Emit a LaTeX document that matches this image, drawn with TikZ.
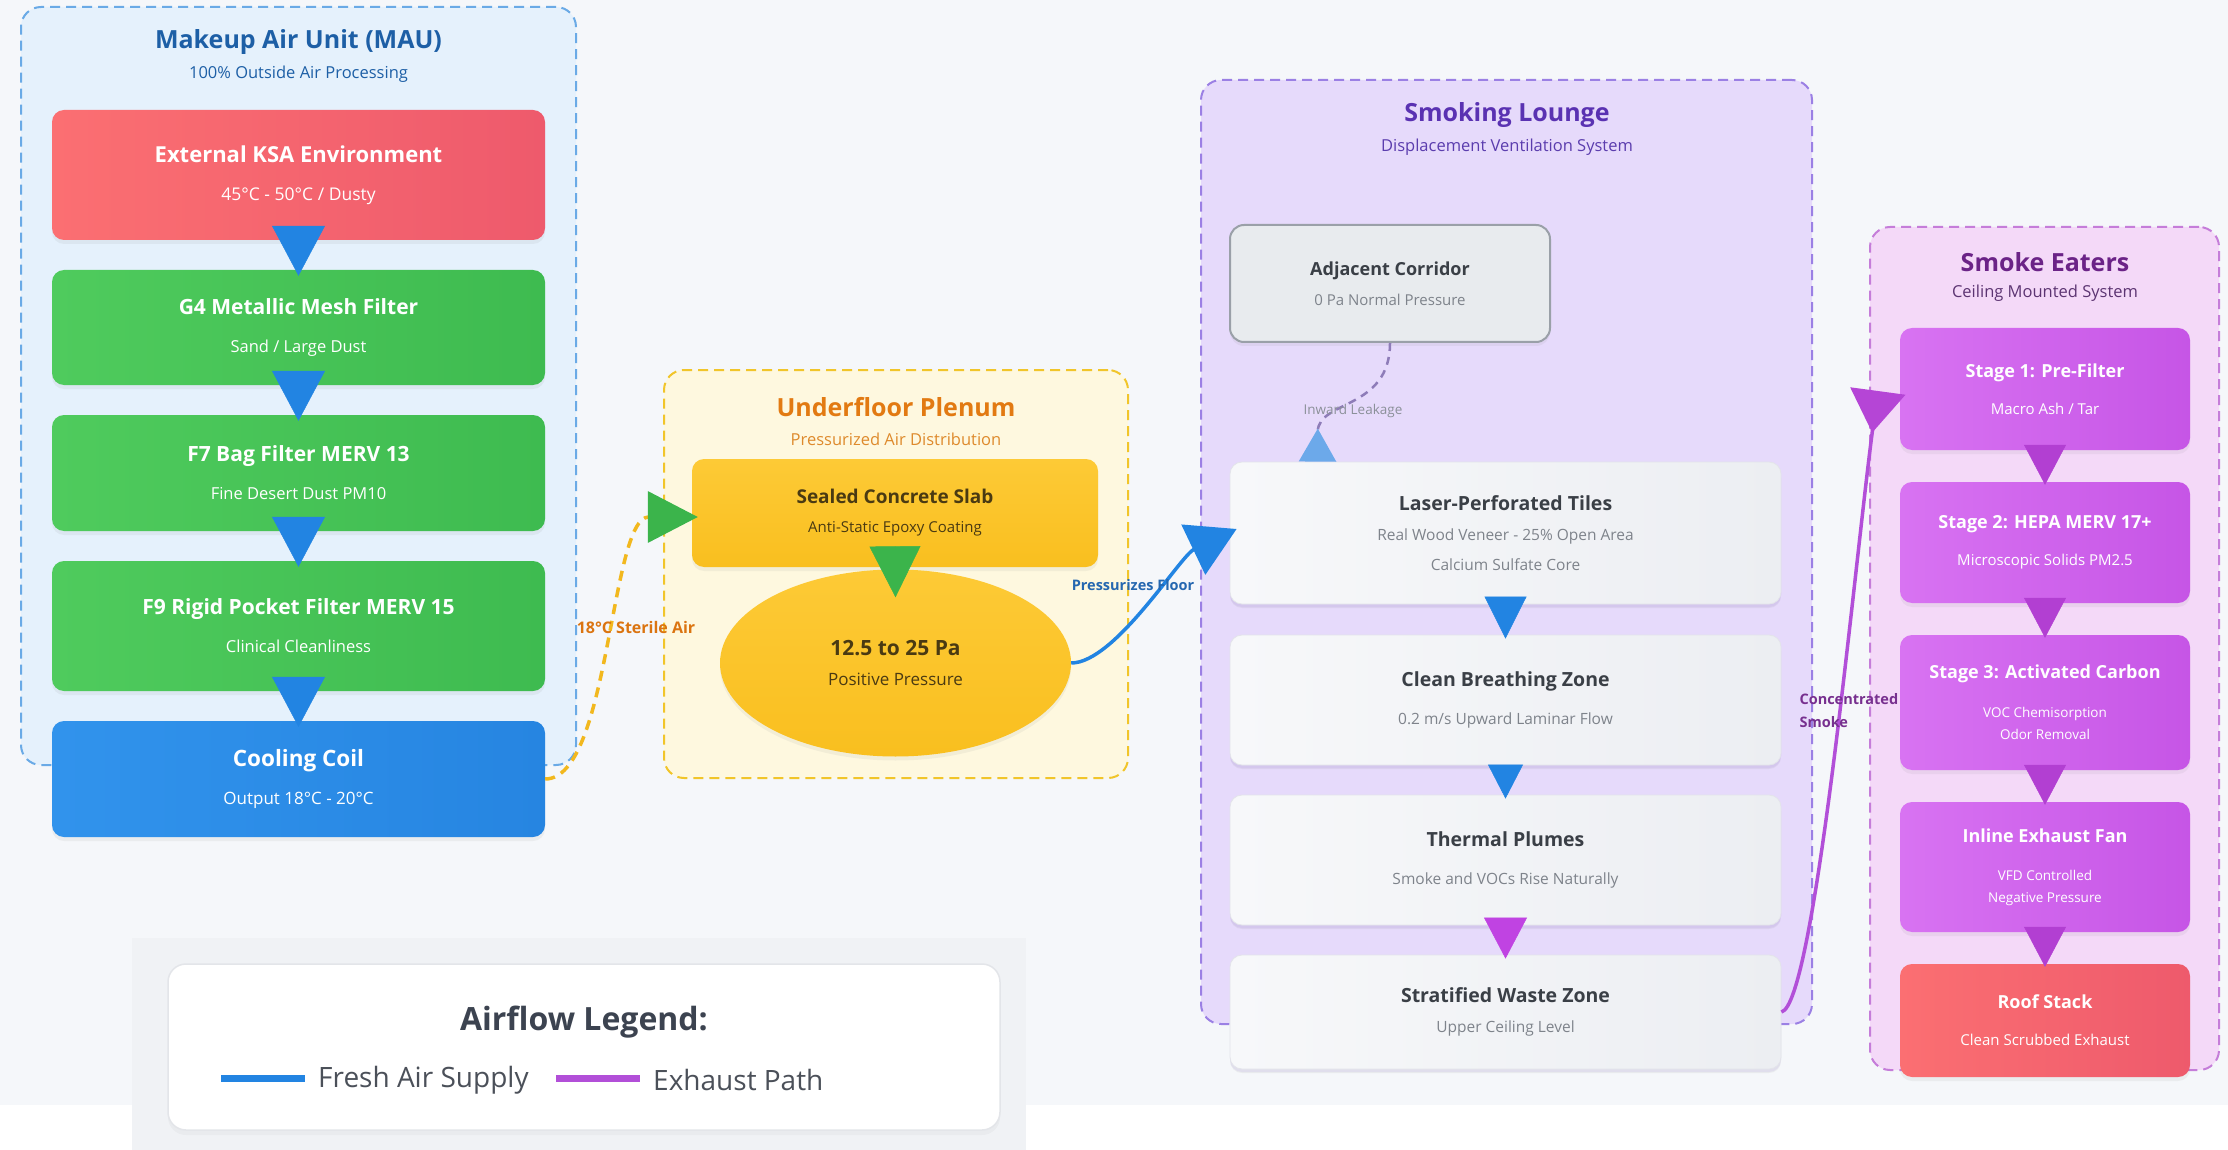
\documentclass[tikz,border=0pt]{standalone}
\usepackage{fontspec}
\setmainfont{Open Sans}
\usetikzlibrary{arrows.meta, shapes.geometric, shadows}

\definecolor{pagebg}{HTML}{F5F7FA}
\definecolor{mauFill}{HTML}{E5F1FC}
\definecolor{mauLine}{HTML}{6AAAE6}
\definecolor{mauText}{HTML}{1D5FA6}
\definecolor{redA}{HTML}{FB6F72}
\definecolor{redB}{HTML}{EE5A6C}
\definecolor{greenA}{HTML}{4FCB5D}
\definecolor{greenB}{HTML}{3EBB50}
\definecolor{blueA}{HTML}{3193EC}
\definecolor{blueB}{HTML}{2685E1}
\definecolor{flowBlue}{HTML}{2284E2}
\definecolor{plenFill}{HTML}{FEF8DF}
\definecolor{plenLine}{HTML}{F1C52A}
\definecolor{plenTitle}{HTML}{E27A12}
\definecolor{plenSub}{HTML}{DE8A2C}
\definecolor{goldA}{HTML}{FDCA36}
\definecolor{goldB}{HTML}{F9BF1F}
\definecolor{goldText}{HTML}{4A3A12}
\definecolor{supplyDash}{HTML}{F2B81E}
\definecolor{sterileText}{HTML}{DB7410}
\definecolor{flowGreen}{HTML}{3BB44B}
\definecolor{floorText}{HTML}{2567B0}
\definecolor{loungeFill}{HTML}{E6DAFB}
\definecolor{loungeLine}{HTML}{9B80E4}
\definecolor{loungeTitle}{HTML}{5A32B2}
\definecolor{loungeSub}{HTML}{5B3DAE}
\definecolor{zoneA}{HTML}{F7F8FA}
\definecolor{zoneB}{HTML}{ECEEF2}
\definecolor{zoneLine}{HTML}{E3E4EA}
\definecolor{zoneTitle}{HTML}{3A3F46}
\definecolor{zoneSub}{HTML}{7E838B}
\definecolor{corrFill}{HTML}{E8EBEE}
\definecolor{corrLine}{HTML}{9AA0A8}
\definecolor{leakLine}{HTML}{8E7CB8}
\definecolor{leakTip}{HTML}{6CA9EA}
\definecolor{leakText}{HTML}{8B9099}
\definecolor{plumeTip}{HTML}{C043E2}
\definecolor{smokeLine}{HTML}{B24FD8}
\definecolor{smokeTip}{HTML}{B545D6}
\definecolor{smokeText}{HTML}{77308F}
\definecolor{eaterFill}{HTML}{F4D9F8}
\definecolor{eaterLine}{HTML}{C57DD9}
\definecolor{eaterTitle}{HTML}{6B2387}
\definecolor{eaterSub}{HTML}{5C3472}
\definecolor{stageA}{HTML}{D873F2}
\definecolor{stageB}{HTML}{C655E6}
\definecolor{stageTip}{HTML}{B23FD2}
\definecolor{legendText}{HTML}{3C4350}
\definecolor{legendItem}{HTML}{4B5059}
\definecolor{legendShade}{HTML}{F0F2F5}
\definecolor{legendLine}{HTML}{E3E5E9}

\newcommand{\ttl}[2][21]{{\fontsize{#1}{#1}\selectfont\bfseries #2}}

\begin{document}
\begin{tikzpicture}[x=1pt, y=-1pt,
  zone/.style={line width=2pt, dash pattern=on 10pt off 6pt, rounded corners=20pt},
  zonetitle/.style={font=\fontsize{25}{25}\selectfont\bfseries},
  zonesub/.style={font=\fontsize{16.5}{16.5}\selectfont},
  card/.style={rounded corners=12pt, align=center, inner sep=0pt,
    drop shadow={shadow xshift=0pt, shadow yshift=-4pt, opacity=0.09}},
  maucard/.style={card, minimum width=493pt, text=white, font=\fontsize{16.5}{38}\selectfont},
  goldcard/.style={card, text=goldText, top color=goldA, bottom color=goldB},
  loungecard/.style={card, minimum width=551pt, left color=zoneA, right color=zoneB,
    draw=zoneLine, line width=0.8pt, text=zoneSub, font=\fontsize{15.5}{30}\selectfont,
    drop shadow={shadow xshift=0pt, shadow yshift=-3pt, opacity=0.12, fill=loungeLine}},
  stagecard/.style={card, minimum width=290pt, left color=stageA, right color=stageB,
    text=white, font=\fontsize{15}{37}\selectfont},
  push/.style={line width=0.5pt, -{Triangle[width=#1]}},
  flowlabel/.style={font=\fontsize{15}{15}\selectfont\bfseries}
]
\useasboundingbox (0,0) rectangle (2228,1150);
\fill[white] (0,0) rectangle (2228,1150);
\fill[pagebg] (0,0) rectangle (2228,1105);
\fill[legendShade] (132,938) rectangle (1026,1150);

% Makeup air unit
\node[zone, fill=mauFill, draw=mauLine, minimum width=555pt, minimum height=758pt] (mau) at (298.5,386) {};
\node[zonetitle, text=mauText] (mautitle) at (298.5,42) {Makeup Air Unit (MAU)};
\node[zonesub, text=mauText] (mausub) at (298.5,74) {100\% Outside Air Processing};

\node[maucard, minimum height=130pt, left color=redA, right color=redB, font=\fontsize{17.5}{38}\selectfont] (ext) at (298.5,175) {\ttl[22]{External KSA Environment}\\45°C - 50°C / Dusty};
\node[maucard, minimum height=115pt, left color=greenA, right color=greenB] (g4) at (298.5,327.5) {\ttl{G4 Metallic Mesh Filter}\\Sand / Large Dust};
\node[maucard, minimum height=116pt, left color=greenA, right color=greenB] (f7) at (298.5,473) {\ttl{F7 Bag Filter MERV 13}\\Fine Desert Dust PM10};
\node[maucard, minimum height=130pt, left color=greenA, right color=greenB] (f9) at (298.5,626) {\ttl{F9 Rigid Pocket Filter MERV 15}\\Clinical Cleanliness};
\node[maucard, minimum height=116pt, left color=blueA, right color=blueB, font=\fontsize{17}{38}\selectfont] (coil) at (298.5,779) {\ttl[22.5]{Cooling Coil}\\Output 18°C - 20°C};

\draw[push={53pt, length=50pt}, flowBlue] ([yshift=14pt]ext.south) -- ([yshift=-6pt]g4.north);
\draw[push={53pt, length=50pt}, flowBlue] ([yshift=14pt]g4.south) -- ([yshift=-6pt]f7.north);
\draw[push={53pt, length=50pt}, flowBlue] ([yshift=14pt]f7.south) -- ([yshift=-6pt]f9.north);
\draw[push={53pt, length=50pt}, flowBlue] ([yshift=14pt]f9.south) -- ([yshift=-6pt]coil.north);

% Underfloor plenum
\node[zone, fill=plenFill, draw=plenLine, minimum width=464pt, minimum height=408pt] (plen) at (896,574) {};
\node[zonetitle, text=plenTitle] (plentitle) at (896,407) {Underfloor Plenum};
\node[zonesub, text=plenSub] (plensub) at (896,439) {Pressurized Air Distribution};

\node[goldcard, minimum width=406pt, minimum height=108pt, font=\fontsize{15}{29}\selectfont] (slab) at (895,513) {\ttl[19]{Sealed Concrete Slab}\\Anti-Static Epoxy Coating};
\node[goldcard, ellipse, rounded corners=0pt, minimum width=351pt, minimum height=187pt, font=\fontsize{17}{30}\selectfont] (press) at (895.5,663) {\ttl{12.5 to 25 Pa}\\Positive Pressure};

\draw[push={51pt, length=51pt}, flowGreen] ([yshift=20pt]slab.south) -- ([yshift=-28pt]press.north);

\draw[supplyDash, line width=3.5pt, dash pattern=on 10pt off 7pt,
  -{Triangle[width=51pt, length=50pt, color=flowGreen]}]
  (coil.east) .. controls (610,779) and (610,517) .. ([shift={(6pt,-4pt)}]slab.west);
\node[flowlabel, text=sterileText, font=\fontsize{16}{16}\selectfont\bfseries] (sterile) at (636,627) {18°C Sterile Air};

% Smoking lounge
\node[zone, fill=loungeFill, draw=loungeLine, minimum width=611pt, minimum height=944pt] (lounge) at (1506.5,552) {};
\node[zonetitle, text=loungeTitle] (loungetitle) at (1507,115) {Smoking Lounge};
\node[zonesub, text=loungeSub] (loungesub) at (1507,147) {Displacement Ventilation System};

\node[card, minimum width=320pt, minimum height=117pt, fill=corrFill, draw=corrLine, line width=2pt, rounded corners=14pt, text=zoneSub, font=\fontsize{15}{30}\selectfont] (corr) at (1390,283.5) {\ttl[18]{\color{zoneTitle}Adjacent Corridor}\\0 Pa Normal Pressure};

\node[loungecard, minimum height=142pt] (tiles) at (1505.5,533) {\ttl[19.5]{\color{zoneTitle}Laser-Perforated Tiles}\\Real Wood Veneer - 25\% Open Area\\Calcium Sulfate Core};
\node[loungecard, minimum height=130pt, font=\fontsize{15.5}{38}\selectfont] (breath) at (1505.5,700) {\ttl[19.5]{\color{zoneTitle}Clean Breathing Zone}\\0.2 m/s Upward Laminar Flow};
\node[loungecard, minimum height=130pt, font=\fontsize{15.5}{38}\selectfont] (plume) at (1505.5,860) {\ttl[19.5]{\color{zoneTitle}Thermal Plumes}\\Smoke and VOCs Rise Naturally};
\node[loungecard, minimum height=114pt] (strat) at (1505.5,1012) {\ttl[19.5]{\color{zoneTitle}Stratified Waste Zone}\\Upper Ceiling Level};

\draw[push={42pt, length=42pt}, flowBlue] ([yshift=7pt]tiles.south) -- ([yshift=-4pt]breath.north);
\draw[push={35pt, length=34pt}, flowBlue] (breath.south) -- ([yshift=-4pt]plume.north);
\draw[push={43pt, length=41pt}, plumeTip] ([yshift=7pt]plume.south) -- ([yshift=-4pt]strat.north);

\draw[flowBlue, line width=3.5pt, -{Triangle[width=55pt, length=48pt]}]
  (press.east) .. controls (1115,663) and (1180,556) .. ([shift={(7pt,4pt)}]tiles.west);
\node[flowlabel, text=floorText, font=\fontsize{14.5}{14.5}\selectfont\bfseries] (floor) at (1133,585) {Pressurizes Floor};

\draw[leakLine, line width=2.5pt, dash pattern=on 8pt off 6pt,
  -{Triangle[reversed, width=37pt, length=33pt, color=leakTip]}]
  (corr.south) .. controls (1390,410) and (1318,400) .. ([xshift=-188pt]tiles.north);
\node[text=leakText, font=\fontsize{13.5}{13.5}\selectfont] (leak) at (1353,411) {Inward Leakage};

% Smoke eaters
\node[zone, fill=eaterFill, draw=eaterLine, minimum width=349pt, minimum height=843pt] (eaters) at (2044.5,648.5) {};
\node[zonetitle, text=eaterTitle] (eatertitle) at (2045,262) {Smoke Eaters};
\node[zonesub, text=eaterSub] (eatersub) at (2045,293) {Ceiling Mounted System};

\node[stagecard, minimum height=122pt] (st1) at (2045,389) {\ttl[18]{Stage 1: Pre-Filter}\\Macro Ash / Tar};
\node[stagecard, minimum height=121pt] (st2) at (2045,542.5) {\ttl[18]{Stage 2: HEPA MERV 17+}\\Microscopic Solids PM2.5};
\node[stagecard, minimum height=135pt, font=\fontsize{13.5}{22}\selectfont] (st3) at (2045,702.5) {\ttl[18]{Stage 3: Activated Carbon}\\[17pt]VOC Chemisorption\\Odor Removal};
\node[stagecard, minimum height=130pt, font=\fontsize{13.5}{22}\selectfont] (fan) at (2045,867) {\ttl[18]{Inline Exhaust Fan}\\[16pt]VFD Controlled\\Negative Pressure};
\node[stagecard, minimum height=113pt, left color=redA, right color=redB] (roof) at (2045,1020.5) {\ttl[18]{Roof Stack}\\Clean Scrubbed Exhaust};

\draw[push={42pt, length=40pt}, stageTip] ([yshift=5pt]st1.south) -- ([yshift=-3pt]st2.north);
\draw[push={42pt, length=40pt}, stageTip] ([yshift=5pt]st2.south) -- ([yshift=-3pt]st3.north);
\draw[push={42pt, length=40pt}, stageTip] ([yshift=5pt]st3.south) -- ([yshift=-3pt]fan.north);
\draw[push={42pt, length=40pt}, stageTip] ([yshift=5pt]fan.south) -- ([yshift=-3pt]roof.north);

\draw[smokeLine, line width=3.5pt, -{Triangle[reversed, width=55pt, length=42pt, color=smokeTip]}]
  (strat.east) .. controls (1815,1005) and (1855,560) .. ([shift={(-22pt,-2pt)}]st1.west);
\node[text=smokeText, align=left, anchor=west, font=\fontsize{14.5}{23}\selectfont\bfseries] (smoke) at (1796,711) {Concentrated\\Smoke};

% Legend
\node[rounded corners=18pt, fill=white, draw=legendLine, line width=1.5pt, minimum width=832pt, minimum height=166pt,
  drop shadow={shadow xshift=0pt, shadow yshift=-5pt, opacity=0.06}] (legend) at (584,1047) {};
\node[text=legendText, font=\fontsize{32}{32}\selectfont\bfseries] (legendtitle) at (584,1022) {Airflow Legend:};
\coordinate (freshA) at (221,1078);
\coordinate (freshB) at (305,1078);
\coordinate (exhA) at (556,1078);
\coordinate (exhB) at (640,1078);
\draw[flowBlue, line width=7pt] (freshA) -- (freshB);
\draw[smokeLine, line width=7pt] (exhA) -- (exhB);
\node[text=legendItem, anchor=west, inner sep=0pt, font=\fontsize{28}{28}\selectfont] (fresh) at (318,1080) {Fresh Air Supply};
\node[text=legendItem, anchor=west, inner sep=0pt, font=\fontsize{28}{28}\selectfont] (exhaust) at (653,1080) {Exhaust Path};
\end{tikzpicture}
\end{document}
